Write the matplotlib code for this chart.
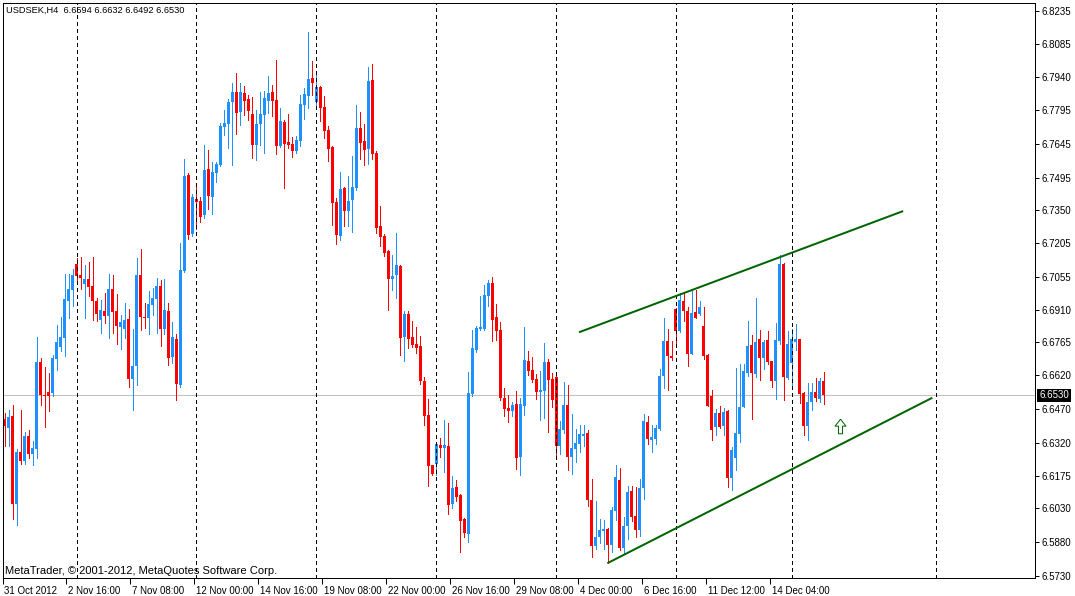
import matplotlib
matplotlib.use('Agg')
import matplotlib.pyplot as plt
import numpy as np
from matplotlib.path import Path
from matplotlib.transforms import blended_transform_factory, ScaledTranslation

plt.rcParams['font.family'] = ['Liberation Sans', 'DejaVu Sans']

# ---------------- data (USDSEK, H4) ----------------
opens = [6.6426, 6.6387, 6.6439, 6.6049, 6.6280, 6.6241, 6.6351, 6.6272, 6.6294, 6.6678,
         6.6534, 6.6545, 6.6542, 6.6693, 6.6745, 6.6786, 6.6949, 6.6997, 6.7113, 6.7064,
         6.7024, 6.7046, 6.7015, 6.6949, 6.6864, 6.6904, 6.6882, 6.7002, 6.6904, 6.6833,
         6.6825, 6.6869, 6.6603, 6.6661, 6.7064, 6.6878, 6.6873, 6.6931, 6.6957, 6.7015,
         6.6825, 6.6904, 6.6701, 6.6780, 6.6577, 6.7082, 6.7507, 6.7245, 6.7400, 6.7392,
         6.7330, 6.7533, 6.7409, 6.7516, 6.7551, 6.7719, 6.7733, 6.7830, 6.7874, 6.7786,
         6.7870, 6.7843, 6.7777, 6.7640, 6.7733, 6.7773, 6.7835, 6.7874, 6.7839, 6.7635,
         6.7742, 6.7653, 6.7644, 6.7613, 6.7657, 6.7817, 6.7857, 6.7937, 6.7830, 6.7897,
         6.7808, 6.7706, 6.7631, 6.7387, 6.7237, 6.7449, 6.7347, 6.7396, 6.7449, 6.7715,
         6.7657, 6.7622, 6.7928, 6.7604, 6.7281, 6.7237, 6.7170, 6.7046, 6.7064, 6.7104,
         6.6789, 6.6891, 6.6789, 6.6758, 6.6749, 6.6594, 6.6444, 6.6222, 6.6228, 6.6311,
         6.6299, 6.6306, 6.6051, 6.6125, 6.6089, 6.5983, 6.5918, 6.6535, 6.6732, 6.6825,
         6.6825, 6.6971, 6.7028, 6.6878, 6.6820, 6.6519, 6.6475, 6.6463, 6.6492, 6.6258,
         6.6483, 6.6683, 6.6643, 6.6603, 6.6545, 6.6550, 6.6678, 6.6603, 6.6612, 6.6306,
         6.6377, 6.6488, 6.6259, 6.6294, 6.6316, 6.6352, 6.6364, 6.6068, 6.5865, 6.5904,
         6.5931, 6.5940, 6.5869, 6.6020, 6.6156, 6.5856, 6.5952, 6.6107, 6.5997, 6.5935,
         6.6120, 6.6413, 6.6334, 6.6339, 6.6383, 6.6616, 6.6771, 6.6705, 6.6913, 6.6817,
         6.6949, 6.6904, 6.6715, 6.6900, 6.6892, 6.6838, 6.6709, 6.6528, 6.6392, 6.6454,
         6.6396, 6.6461, 6.6163, 6.6253, 6.6359, 6.6480, 6.6631, 6.6754, 6.6627, 6.6780,
         6.6697, 6.6776, 6.6683, 6.6596, 6.6773, 6.7113, 6.6609, 6.6675, 6.6768, 6.6780,
         6.6542, 6.6396, 6.6502, 6.6547, 6.6516, 6.6594]
highs = [6.6454, 6.6466, 6.6489, 6.6293, 6.6466, 6.6368, 6.6377, 6.6328, 6.6789, 6.6696,
         6.6656, 6.6630, 6.6709, 6.6842, 6.6878, 6.7070, 6.7070, 6.7090, 6.7139, 6.7144,
         6.7108, 6.7121, 6.7144, 6.6962, 6.6953, 6.6984, 6.7070, 6.7064, 6.6980, 6.6887,
         6.6940, 6.6913, 6.6825, 6.7139, 6.7179, 6.6940, 6.6993, 6.7006, 6.7051, 6.7042,
         6.7046, 6.6940, 6.6856, 6.6802, 6.7206, 6.7578, 6.7516, 6.7423, 6.7463, 6.7409,
         6.7640, 6.7618, 6.7564, 6.7564, 6.7737, 6.7795, 6.7843, 6.7914, 6.7959, 6.7914,
         6.7901, 6.7861, 6.7852, 6.7795, 6.7874, 6.7879, 6.7945, 6.7906, 6.8016, 6.7804,
         6.7750, 6.7777, 6.7675, 6.7680, 6.7861, 6.7892, 6.8140, 6.8012, 6.7963, 6.7899,
         6.7857, 6.7724, 6.7635, 6.7405, 6.7520, 6.7454, 6.7502, 6.7591, 6.7817, 6.7786,
         6.7733, 6.7985, 6.7999, 6.7613, 6.7369, 6.7245, 6.7175, 6.7152, 6.7250, 6.7108,
         6.6904, 6.6904, 6.6860, 6.6833, 6.6794, 6.6612, 6.6514, 6.6224, 6.6325, 6.6342,
         6.6421, 6.6408, 6.6173, 6.6156, 6.6094, 6.5987, 6.6634, 6.6820, 6.6838, 6.6971,
         6.7020, 6.7042, 6.7055, 6.6935, 6.6856, 6.6563, 6.6532, 6.6501, 6.6550, 6.6519,
         6.6833, 6.6727, 6.6701, 6.6625, 6.6639, 6.6763, 6.6692, 6.6630, 6.6630, 6.6417,
         6.6591, 6.6577, 6.6448, 6.6382, 6.6399, 6.6401, 6.6377, 6.6160, 6.6064, 6.5984,
         6.5978, 6.5943, 6.6036, 6.6222, 6.6209, 6.5993, 6.6130, 6.6129, 6.6126, 6.6161,
         6.6448, 6.6439, 6.6399, 6.6399, 6.6649, 6.6873, 6.6825, 6.6771, 6.6918, 6.6983,
         6.6983, 6.6923, 6.6993, 6.6997, 6.6949, 6.6923, 6.6714, 6.6554, 6.6471, 6.6485,
         6.6476, 6.6467, 6.6303, 6.6653, 6.6670, 6.6670, 6.6861, 6.6798, 6.6962, 6.6820,
         6.6776, 6.6816, 6.6685, 6.6850, 6.7152, 6.7117, 6.6817, 6.6825, 6.6848, 6.6782,
         6.6544, 6.6587, 6.6587, 6.6609, 6.6609, 6.6632]
lows = [6.6308, 6.6308, 6.5984, 6.5956, 6.6228, 6.6228, 6.6254, 6.6223, 6.6254, 6.6489,
        6.6392, 6.6463, 6.6529, 6.6644, 6.6727, 6.6705, 6.6873, 6.6928, 6.7042, 6.7002,
        6.6873, 6.6971, 6.6864, 6.6860, 6.6807, 6.6851, 6.6785, 6.6807, 6.6758, 6.6736,
        6.6785, 6.6569, 6.6467, 6.6578, 6.6820, 6.6829, 6.6802, 6.6887, 6.6807, 6.6749,
        6.6802, 6.6665, 6.6674, 6.6510, 6.6568, 6.7077, 6.7223, 6.7237, 6.7268, 6.7299,
        6.7316, 6.7356, 6.7334, 6.7476, 6.7547, 6.7684, 6.7626, 6.7551, 6.7688, 6.7728,
        6.7773, 6.7750, 6.7582, 6.7573, 6.7640, 6.7604, 6.7781, 6.7768, 6.7600, 6.7631,
        6.7449, 6.7626, 6.7587, 6.7604, 6.7635, 6.7755, 6.7804, 6.7861, 6.7808, 6.7746,
        6.7671, 6.7569, 6.7285, 6.7201, 6.7219, 6.7281, 6.7281, 6.7254, 6.7440, 6.7578,
        6.7551, 6.7556, 6.7578, 6.7250, 6.7192, 6.7148, 6.6909, 6.6997, 6.6962, 6.6709,
        6.6683, 6.6740, 6.6745, 6.6718, 6.6581, 6.6401, 6.6130, 6.6179, 6.6179, 6.6259,
        6.6192, 6.6006, 6.6033, 6.6064, 6.5838, 6.5904, 6.5882, 6.6528, 6.6723, 6.6820,
        6.6820, 6.6926, 6.6771, 6.6776, 6.6510, 6.6439, 6.6414, 6.6440, 6.6204, 6.6178,
        6.6444, 6.6621, 6.6590, 6.6514, 6.6421, 6.6430, 6.6368, 6.6479, 6.6259, 6.6271,
        6.6363, 6.6200, 6.6184, 6.6237, 6.6281, 6.6308, 6.6042, 6.5816, 6.5849, 6.5878,
        6.5851, 6.5787, 6.5838, 6.5980, 6.5847, 6.5834, 6.5896, 6.5975, 6.5904, 6.5908,
        6.6073, 6.6316, 6.6281, 6.6316, 6.6378, 6.6565, 6.6556, 6.6689, 6.6764, 6.6813,
        6.6860, 6.6662, 6.6714, 6.6872, 6.6887, 6.6692, 6.6483, 6.6333, 6.6355, 6.6387,
        6.6355, 6.6126, 6.6111, 6.6200, 6.6325, 6.6478, 6.6618, 6.6426, 6.6612, 6.6597,
        6.6649, 6.6671, 6.6569, 6.6516, 6.6759, 6.6511, 6.6604, 6.6573, 6.6733, 6.6497,
        6.6356, 6.6334, 6.6467, 6.6507, 6.6502, 6.6492]
closes = [6.6396, 6.6435, 6.6049, 6.6280, 6.6241, 6.6351, 6.6272, 6.6297, 6.6678, 6.6534,
          6.6529, 6.6529, 6.6696, 6.6767, 6.6789, 6.6957, 6.7002, 6.7064, 6.7061, 6.7052,
          6.7046, 6.7012, 6.6949, 6.6891, 6.6909, 6.6882, 6.7002, 6.6900, 6.6838, 6.6856,
          6.6864, 6.6603, 6.6661, 6.7064, 6.6878, 6.6873, 6.6935, 6.6962, 6.7015, 6.6825,
          6.6909, 6.6696, 6.6789, 6.6581, 6.7086, 6.7502, 6.7241, 6.7409, 6.7387, 6.7321,
          6.7529, 6.7414, 6.7520, 6.7556, 6.7724, 6.7737, 6.7830, 6.7874, 6.7781, 6.7874,
          6.7835, 6.7790, 6.7640, 6.7733, 6.7777, 6.7848, 6.7870, 6.7835, 6.7635, 6.7746,
          6.7644, 6.7640, 6.7613, 6.7662, 6.7821, 6.7866, 6.7932, 6.7914, 6.7897, 6.7804,
          6.7702, 6.7622, 6.7383, 6.7241, 6.7445, 6.7347, 6.7392, 6.7454, 6.7715, 6.7649,
          6.7618, 6.7923, 6.7600, 6.7272, 6.7232, 6.7161, 6.7046, 6.7059, 6.7108, 6.6785,
          6.6891, 6.6780, 6.6754, 6.6740, 6.6594, 6.6440, 6.6219, 6.6184, 6.6315, 6.6299,
          6.6311, 6.6046, 6.6120, 6.6082, 6.5975, 6.5922, 6.6541, 6.6740, 6.6829, 6.6833,
          6.6975, 6.7028, 6.6864, 6.6816, 6.6519, 6.6470, 6.6463, 6.6488, 6.6253, 6.6492,
          6.6687, 6.6639, 6.6599, 6.6545, 6.6554, 6.6678, 6.6599, 6.6510, 6.6306, 6.6382,
          6.6488, 6.6259, 6.6297, 6.6320, 6.6359, 6.6359, 6.6068, 6.5865, 6.5903, 6.5934,
          6.5940, 6.5869, 6.6023, 6.6169, 6.5856, 6.5952, 6.6104, 6.5993, 6.5935, 6.6120,
          6.6417, 6.6339, 6.6347, 6.6386, 6.6616, 6.6771, 6.6706, 6.6697, 6.6817, 6.6953,
          6.6906, 6.6715, 6.6895, 6.6875, 6.6922, 6.6706, 6.6485, 6.6377, 6.6454, 6.6392,
          6.6458, 6.6163, 6.6289, 6.6365, 6.6480, 6.6640, 6.6749, 6.6628, 6.6768, 6.6697,
          6.6768, 6.6680, 6.6596, 6.6776, 6.7113, 6.6613, 6.6758, 6.6781, 6.6780, 6.6538,
          6.6396, 6.6502, 6.6547, 6.6520, 6.6596, 6.6530]

current_price = 6.6530
title_text = "USDSEK,H4  6.6594 6.6632 6.6492 6.6530"
copyright_text = "MetaTrader, \u00a9 2001-2012, MetaQuotes Software Corp."

xtick_bars = [0, 16, 32, 48, 64, 80, 96, 112, 128, 144, 160, 176, 192]
xtick_labels = ['31 Oct 2012', '2 Nov 16:00', '7 Nov 08:00', '12 Nov 00:00', '14 Nov 16:00',
                '19 Nov 08:00', '22 Nov 00:00', '26 Nov 16:00', '29 Nov 08:00', '4 Dec 00:00',
                '6 Dec 16:00', '11 Dec 12:00', '14 Dec 04:00']
ytick_labels = ['6.8235', '6.8085', '6.7940', '6.7795', '6.7645', '6.7495', '6.7350', '6.7205',
                '6.7055', '6.6910', '6.6765', '6.6620', '6.6470', '6.6320', '6.6175', '6.6030',
                '6.5880', '6.5730']
separator_bars = [18, 48, 78, 108, 138, 168, 197, 233]

upper_trend_bars = [143.75, 224.9]
upper_trend_prices = [6.6810, 6.7347]
lower_trend_bars = [150.85, 232.2]
lower_trend_prices = [6.5787, 6.6520]
arrow_bar = 209.1
arrow_price = 6.6397

# ---------------- drawing ----------------
W, H, DPI = 1075, 596, 100
PX = 72.0 / DPI

fig = plt.figure(figsize=(W / DPI, H / DPI), dpi=DPI)
fig.patch.set_facecolor('white')
ax = fig.add_axes([2.5 / W, 18 / H, 1032.5 / W, 575.5 / H])
ax.set_facecolor('white')
ax.set_xlim(-0.2, 257.9)
ax.set_ylim(6.57215, 6.82709)

o = np.array(opens); h = np.array(highs); l = np.array(lows); c = np.array(closes)
x = np.arange(len(o))
colors = np.where(c >= o, '#1E90FF', '#FF0000')

ax.axhline(current_price, color='#C0C0C0', lw=PX, zorder=1)

ax.vlines(x, l, h, colors=colors, lw=PX, zorder=2, antialiased=False)
ax.bar(x, np.abs(c - o), bottom=np.minimum(o, c), width=0.75, color=colors,
       lw=0, zorder=2, antialiased=False)

for sb in separator_bars:
    ax.axvline(sb, color='black', lw=PX, linestyle=(0, (4, 4)), zorder=3,
               antialiased=False)

ax.plot(upper_trend_bars, upper_trend_prices, color='#006400', lw=2 * PX, zorder=4,
        solid_capstyle='butt')
ax.plot(lower_trend_bars, lower_trend_prices, color='#006400', lw=2 * PX, zorder=4,
        solid_capstyle='butt')

arrow_path = Path([(0, 1), (0.75, 0.05), (0.28, 0.05), (0.28, -1), (-0.28, -1),
                   (-0.28, 0.05), (-0.75, 0.05), (0, 1)])
ax.plot([arrow_bar], [arrow_price], marker=arrow_path, ms=10.5, mfc='white',
        mec='#006400', mew=PX, linestyle='none', zorder=5)

# axes / ticks
for sp in ax.spines.values():
    sp.set_color('black')
    sp.set_linewidth(PX)

ax.yaxis.tick_right()
ax.set_yticks([float(v) for v in ytick_labels])
ax.set_yticklabels(ytick_labels)
ax.tick_params(axis='y', direction='out', length=3, width=PX, pad=2, labelsize=7,
               right=True, left=False, colors='black')

ax.set_xticks(np.array(xtick_bars) - 0.55)
ax.set_xticklabels(xtick_labels, ha='left')
ax.tick_params(axis='x', direction='out', length=4, width=PX, pad=1.5, labelsize=7,
               colors='black')
offs = ScaledTranslation(2 / DPI, 0, fig.dpi_scale_trans)
for lbl in ax.get_xticklabels():
    lbl.set_transform(lbl.get_transform() + offs)

# current price box
tr = blended_transform_factory(ax.transAxes, ax.transData) + \
    ScaledTranslation(4 / DPI, 0, fig.dpi_scale_trans)
ax.text(1.0, current_price, f'{current_price:.4f}', transform=tr, ha='left', va='center',
        color='white', fontsize=7, zorder=6,
        bbox=dict(boxstyle='square,pad=0.18', fc='black', ec='none'), clip_on=False)

fig.text(6 / W, 1 - 10 / H, title_text, fontsize=6.7, ha='left', va='center', color='black')
fig.text(5 / W, 1 - 571 / H, copyright_text, fontsize=8, ha='left', va='center',
         color='black')

fig.savefig('out.png', dpi=DPI, facecolor='white')
